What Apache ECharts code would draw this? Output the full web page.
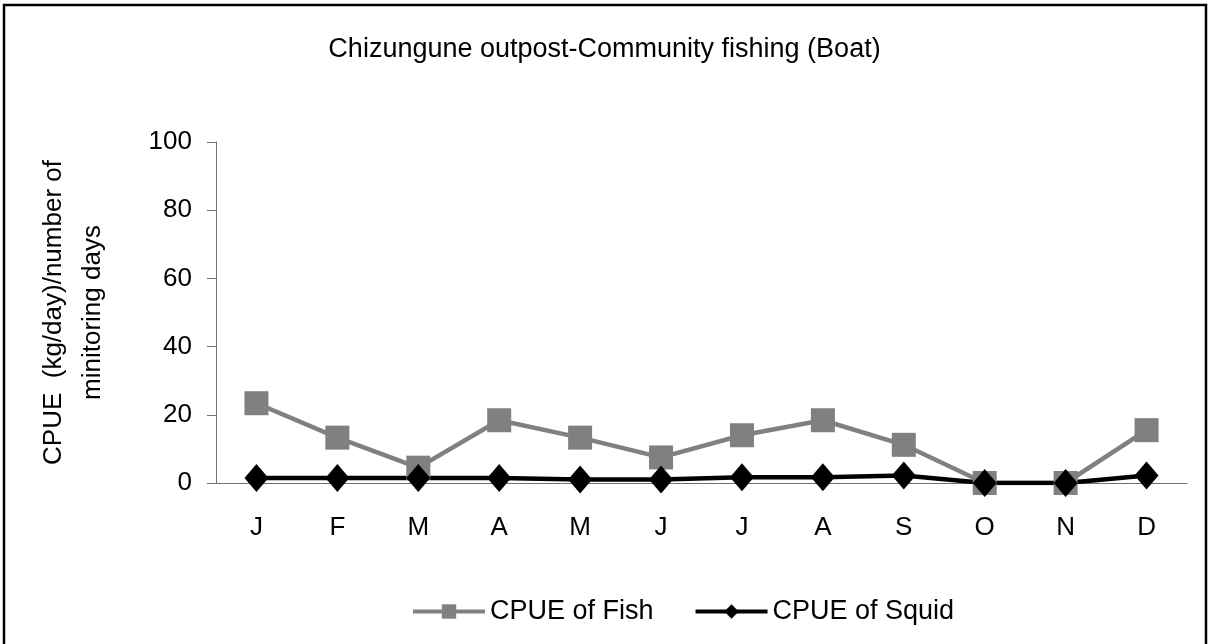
<!DOCTYPE html>
<html>
<head>
<meta charset="utf-8">
<script src="https://cdn.jsdelivr.net/npm/echarts@6/dist/echarts.min.js"></script>
<style>
  html, body { margin: 0; padding: 0; background: #fff; }
  #chart { width: 1209px; height: 644px; }
</style>
</head>
<body>
<div id="chart"></div>
<script>
const months = ['J', 'F', 'M', 'A', 'M', 'J', 'J', 'A', 'S', 'O', 'N', 'D']
const fishCpue = [23.4, 13.3, 4.5, 18.4, 13.3, 7.5, 14.0, 18.4, 11.2, 0, 0, 15.5]
const squidCpue = [1.5, 1.5, 1.5, 1.5, 1.0, 1.0, 1.7, 1.7, 2.2, 0, 0, 2.2]

const font = 'Liberation Sans, Arial, sans-serif'
const chart = echarts.init(document.getElementById('chart'))

chart.setOption({
  animation: false,
  backgroundColor: '#fff',
  title: {
    text: 'Chizungune outpost-Community fishing (Boat)',
    left: 'center',
    top: 31,
    textStyle: { fontFamily: font, fontSize: 27, fontWeight: 'normal', color: '#000' }
  },
  graphic: [{
    type: 'rect',
    shape: { x: 4, y: 5, width: 1202, height: 650 },
    style: { fill: 'none', stroke: '#000', lineWidth: 2.5 }
  }],
  grid: { left: 216, right: 22, top: 142, bottom: 161, outerBoundsMode: 'none' },
  legend: {
    bottom: 14,
    left: 406,
    itemWidth: 72,
    itemHeight: 18,
    itemGap: 40,
    lineStyle: { width: 4 },
    textStyle: { fontFamily: font, fontSize: 27, color: '#000' },
    data: ['CPUE of Fish', 'CPUE of Squid']
  },
  xAxis: {
    type: 'category',
    data: months,
    boundaryGap: true,
    axisLine: { lineStyle: { color: '#707070', width: 1 } },
    axisTick: { alignWithLabel: false, length: 9, lineStyle: { color: '#707070' } },
    axisLabel: { fontFamily: font, fontSize: 26, color: '#000', margin: 32 }
  },
  yAxis: {
    type: 'value',
    min: 0,
    max: 100,
    interval: 20,
    name: 'CPUE  (kg/day)/number of\nminitoring days',
    nameLocation: 'middle',
    nameGap: 104,
    nameTextStyle: { fontFamily: font, fontSize: 26, color: '#000', lineHeight: 39 },
    splitLine: { show: false },
    axisLine: { show: true, lineStyle: { color: '#707070', width: 1 } },
    axisTick: { show: true, length: 9, lineStyle: { color: '#707070' } },
    axisLabel: { fontFamily: font, fontSize: 26, color: '#000', margin: 24 }
  },
  series: [
    {
      name: 'CPUE of Fish',
      type: 'line',
      data: fishCpue,
      symbol: 'rect',
      symbolSize: 24,
      lineStyle: { color: '#808080', width: 4.5 },
      itemStyle: { color: '#808080' }
    },
    {
      name: 'CPUE of Squid',
      type: 'line',
      data: squidCpue,
      symbol: 'diamond',
      symbolSize: [24, 28],
      lineStyle: { color: '#000', width: 4.5 },
      itemStyle: { color: '#000' }
    }
  ]
})
</script>
</body>
</html>
